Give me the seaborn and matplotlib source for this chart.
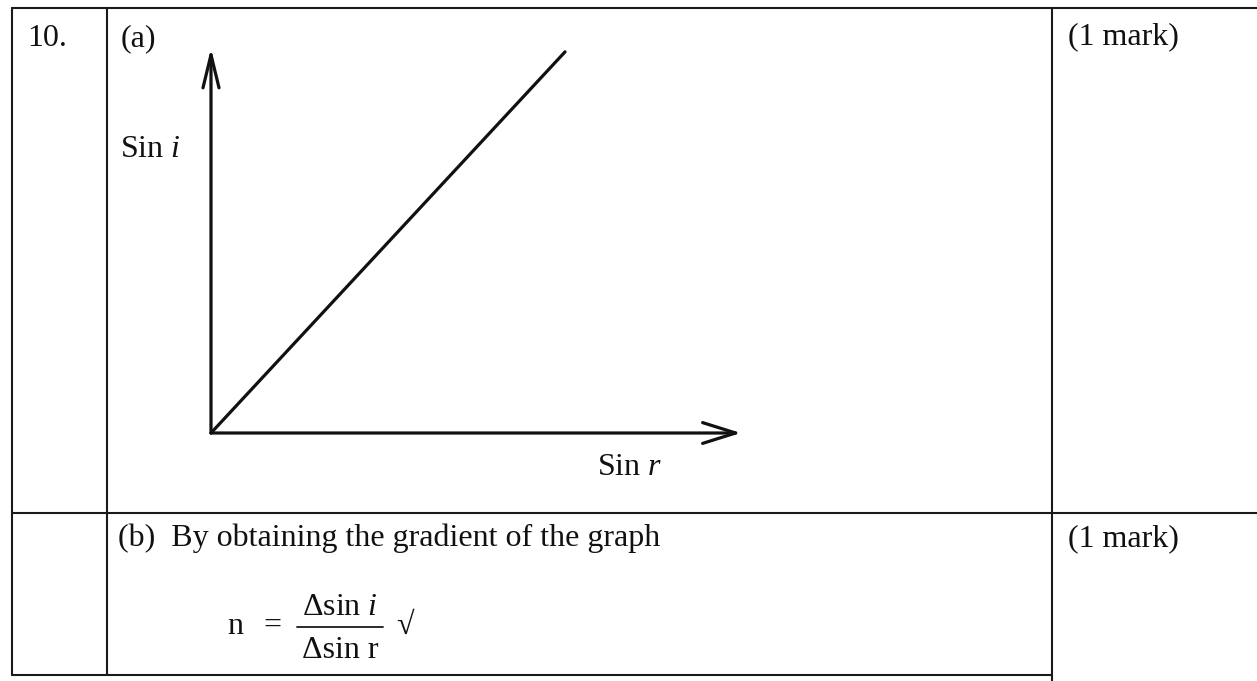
import matplotlib
matplotlib.use("Agg")
import matplotlib.pyplot as plt
import seaborn as sns

# Graph data: straight line through the origin (sin i against sin r)
sin_r = [0.0, 0.668]
sin_i = [0.0, 0.99]

# Text content
question_no = "10."
part_a = "(a)"
part_b = "(b)  By obtaining the gradient of the graph"
mark_text = "(1 mark)"
y_label = "Sin $i$"
x_label = "Sin $r$"

sns.set_theme(style="white")
plt.rcParams["font.family"] = ["Liberation Serif", "DejaVu Serif"]
plt.rcParams["mathtext.fontset"] = "custom"
plt.rcParams["mathtext.rm"] = "Liberation Serif"
plt.rcParams["mathtext.it"] = "Liberation Serif:italic"

W, H = 1257, 681
fig = plt.figure(figsize=(W / 100, H / 100), dpi=100)
fig.patch.set_facecolor("white")

# Background axes in pixel coordinates for the table and text
bg = fig.add_axes([0, 0, 1, 1])
bg.set_xlim(0, W)
bg.set_ylim(H, 0)
bg.axis("off")

lc = "#1a1a1a"
# table borders
bg.plot([12, W], [8, 8], color=lc, lw=1.5)
bg.plot([12, W], [513, 513], color=lc, lw=1.5)
bg.plot([12, 1052], [675, 675], color=lc, lw=1.5)
bg.plot([12, 12], [8, 675], color=lc, lw=1.5)
bg.plot([107, 107], [8, 675], color=lc, lw=1.5)
bg.plot([1052, 1052], [8, H], color=lc, lw=1.5)

fs = 23
tc = "#111111"
bg.text(27, 46, question_no, fontsize=fs, color=tc, va="baseline")
bg.text(121, 46, part_a, fontsize=fs, color=tc, va="baseline")
bg.text(120, 157, y_label, fontsize=fs, color=tc, va="baseline")
bg.text(597, 475, x_label, fontsize=fs, color=tc, va="baseline")
bg.text(1068, 44, mark_text, fontsize=fs, color=tc, va="baseline")
bg.text(1068, 546, mark_text, fontsize=fs, color=tc, va="baseline")
bg.text(118, 546, part_b, fontsize=fs, color=tc, va="baseline")

# formula n = Δ sin i / Δ sin r
ffs = 23
bg.text(227, 634, "n", fontsize=ffs, color=tc, va="baseline")
bg.text(263, 634, "=", fontsize=ffs, color=tc, va="baseline")
bg.text(340, 615, "Δsin $i$", fontsize=ffs, color=tc, va="baseline", ha="center")
bg.plot([297, 383], [627, 627], color=lc, lw=1.3)
bg.text(340, 658, "Δsin r", fontsize=ffs, color=tc, va="baseline", ha="center")
bg.text(396, 634, "√", fontsize=ffs, color=tc, va="baseline")

# Graph axes: origin at (211, 433) px, arrow tips at x=741 and y=48
ox, oy = 211, 433
gx = fig.add_axes([ox / W, (H - oy) / H, (741 - ox) / W, (oy - 48) / H])
gx.set_xlim(0, 1)
gx.set_ylim(0, 1)
gx.axis("off")
gx.patch.set_alpha(0)

sns.lineplot(x=sin_r, y=sin_i, ax=gx, color="#111111", lw=2.3, clip_on=False)

arrow_x = dict(arrowstyle="->,head_length=0.7,head_width=0.22", lw=2.3,
               color="#111111", mutation_scale=34, shrinkA=0, shrinkB=0)
arrow_y = dict(arrowstyle="->,head_length=0.7,head_width=0.17", lw=2.3,
               color="#111111", mutation_scale=34, shrinkA=0, shrinkB=0)
gx.annotate("", xy=(1, 0), xytext=(0, 0), xycoords="axes fraction",
            textcoords="axes fraction", arrowprops=arrow_x)
gx.annotate("", xy=(0, 1), xytext=(0, 0), xycoords="axes fraction",
            textcoords="axes fraction", arrowprops=arrow_y)

fig.savefig("out.png", dpi=100, facecolor="white")
